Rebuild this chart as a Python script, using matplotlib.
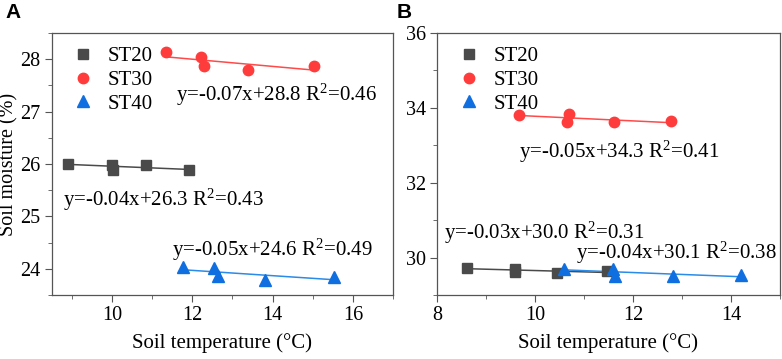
import numpy as np
import matplotlib.pyplot as plt
from matplotlib.ticker import MultipleLocator

# Panel A data (soil temperature °C, soil moisture %)
a_st20_x = [8.90, 10.00, 10.02, 10.84, 11.92]
a_st20_y = [26.00, 25.99, 25.89, 25.98, 25.88]
a_st30_x = [11.36, 12.22, 12.30, 13.38, 15.03]
a_st30_y = [28.13, 28.05, 27.87, 27.79, 27.87]
a_st40_x = [11.76, 12.55, 12.65, 13.82, 15.53]
a_st40_y = [24.03, 24.01, 23.87, 23.78, 23.85]

# Panel B data
b_st20_x = [8.61, 9.59, 9.60, 10.45, 11.47]
b_st20_y = [29.73, 29.71, 29.62, 29.59, 29.64]
b_st30_x = [9.68, 10.69, 10.65, 11.62, 12.77]
b_st30_y = [33.82, 33.84, 33.63, 33.62, 33.64]
b_st40_x = [10.59, 11.60, 11.64, 12.81, 14.20]
b_st40_y = [29.71, 29.71, 29.51, 29.51, 29.53]

series_names = ["ST20", "ST30", "ST40"]
eq_a = ["y=-0.04x+26.3 R$^{2}$=0.43", "y=-0.07x+28.8 R$^{2}$=0.46",
        "y=-0.05x+24.6 R$^{2}$=0.49"]
eq_b = ["y=-0.03x+30.0 R$^{2}$=0.31", "y=-0.05x+34.3 R$^{2}$=0.41",
        "y=-0.04x+30.1 R$^{2}$=0.38"]

marker_colors = ["#4a4a4a", "#ff3c3c", "#0f6fe0"]
line_colors = ["#4a4a4a", "#ff4a4a", "#2a8be8"]
markers = ["s", "o", "^"]
msizes = [7, 7.5, 8]

plt.rcParams["font.family"] = ["Liberation Serif", "DejaVu Serif"]
plt.rcParams["mathtext.fontset"] = "custom"
plt.rcParams["mathtext.rm"] = "Liberation Serif"
plt.rcParams["mathtext.default"] = "regular"
frame = "#555555"
fs = 15

fig = plt.figure(figsize=(7.82, 3.59), dpi=100)
ax_a = fig.add_axes([0.0659, 0.178, 0.4367, 0.730])
ax_b = fig.add_axes([0.5588, 0.178, 0.4386, 0.730])


def draw_panel(ax, xs, ys, eqs, eq_pos):
    for i in range(3):
        x = np.array(xs[i])
        y = np.array(ys[i])
        k, b = np.polyfit(x, y, 1)
        fx = np.array([x.min(), x.max()])
        ax.plot(fx, k * fx + b, color=line_colors[i], lw=1.1, zorder=2)
        ax.plot(x, y, ls="none", marker=markers[i], ms=msizes[i],
                color=marker_colors[i], label=series_names[i], zorder=3)
        ax.text(eq_pos[i][0], eq_pos[i][1], eqs[i], transform=ax.transAxes,
                fontsize=fs, va="center", ha="left")
    for s in ax.spines.values():
        s.set_color(frame)
        s.set_linewidth(0.9)
    ax.tick_params(which="both", direction="out", color=frame, labelsize=14.5,
                   top=False, right=False)
    ax.tick_params(which="major", length=5, pad=3)
    ax.tick_params(which="minor", length=3)
    ax.set_xlabel("Soil temperature (°C)", fontsize=fs, labelpad=6)
    ax.legend(loc="upper left", frameon=False, fontsize=fs, handletextpad=0.5,
              borderaxespad=0.25, labelspacing=0.2, handlelength=1.4,
              bbox_to_anchor=(0.01, 1.0))


draw_panel(ax_a, [a_st20_x, a_st30_x, a_st40_x], [a_st20_y, a_st30_y, a_st40_y],
           eq_a, [(0.034, 0.363), (0.365, 0.763), (0.353, 0.172)])
ax_a.set_xlim(8.5, 17)
ax_a.set_ylim(23.5, 28.5)
ax_a.set_xticks([10, 12, 14, 16])
ax_a.xaxis.set_minor_locator(MultipleLocator(1))
ax_a.yaxis.set_major_locator(MultipleLocator(1))
ax_a.yaxis.set_minor_locator(MultipleLocator(0.5))
ax_a.set_ylabel("Soil moisture (%)", fontsize=14.5)
ax_a.yaxis.set_label_coords(-0.097, 0.5)

draw_panel(ax_b, [b_st20_x, b_st30_x, b_st40_x], [b_st20_y, b_st30_y, b_st40_y],
           eq_b, [(0.02, 0.237), (0.239, 0.546), (0.405, 0.160)])
ax_b.set_xlim(8, 15)
ax_b.set_ylim(29, 36)
ax_b.set_xticks([8, 10, 12, 14])
ax_b.xaxis.set_minor_locator(MultipleLocator(1))
ax_b.set_yticks([30, 32, 34, 36])
ax_b.yaxis.set_minor_locator(MultipleLocator(1))

fig.text(0.007, 0.966, "A", fontsize=15, fontweight="bold",
         family="Liberation Sans", va="center")
fig.text(0.507, 0.966, "B", fontsize=15, fontweight="bold",
         family="Liberation Sans", va="center")

fig.savefig("out.png", dpi=100)
